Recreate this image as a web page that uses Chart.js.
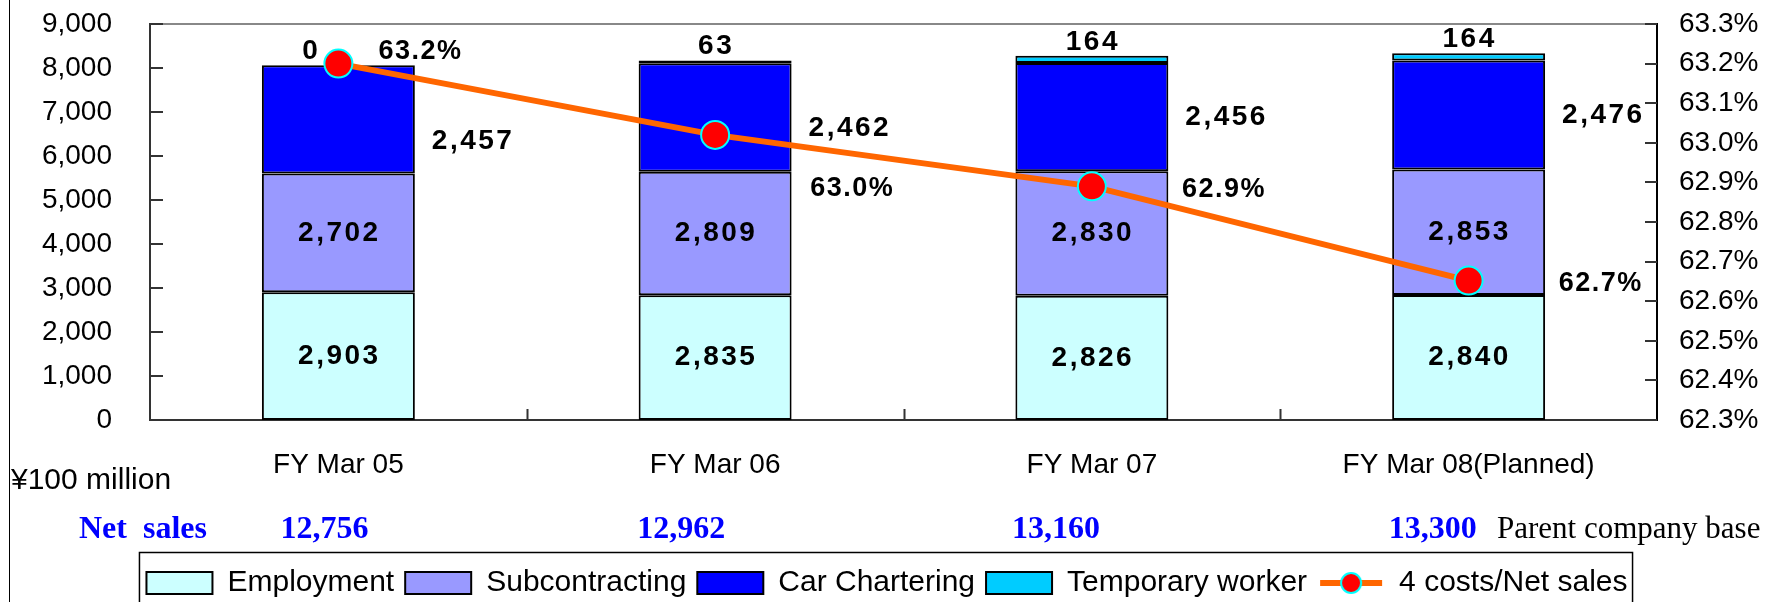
<!DOCTYPE html>
<html>
<head>
<meta charset="utf-8">
<script src="https://cdn.jsdelivr.net/npm/chart.js@4"></script>
<style>
  html, body { margin: 0; padding: 0; background: #fff; }
  #wrap { width: 1774px; height: 602px; position: relative; }
</style>
</head>
<body>
<div id="wrap"><canvas id="costChart" width="1774" height="602"></canvas></div>
<script>
// Chart data
var categories = ['FY Mar 05', 'FY Mar 06', 'FY Mar 07', 'FY Mar 08(Planned)'];
var employmentValues = [2903, 2835, 2826, 2840];
var subcontractingValues = [2702, 2809, 2830, 2853];
var carCharteringValues = [2457, 2462, 2456, 2476];
var temporaryValues = [0, 63, 164, 164];
var costRatioValues = [63.2, 63.02, 62.89, 62.652];
var netSalesValues = [12756, 12962, 13160, 13300];

// label nudges (pixels), per category
var carLabelShiftY = [22, 11, 0, 0];
var tempLabelShiftX = [-28, 0, 0, 0];
var ratioLabelShift = [[40, -12], [95, 54], [90, 3], [90, 3]];
var netSalesShiftX = [-58, -78, -80, -80];

var sansFont = "'Liberation Sans', Arial, sans-serif";
var serifFont = "'Liberation Serif', 'Times New Roman', serif";
Chart.defaults.font.family = sansFont;
Chart.defaults.color = '#000';

function fmt(n) {
    return n.toLocaleString('en-US');
}

// keep the tick padding from pushing the plot down
function tightPadding(s) {
    s.paddingTop = 15;
    s.paddingBottom = 15;
}

// legend symbol for the line series
var lineSymbol = document.createElement('canvas');
lineSymbol.width = 66;
lineSymbol.height = 26;
(function () {
    var c = lineSymbol.getContext('2d');
    c.strokeStyle = '#ff6600';
    c.lineWidth = 6;
    c.beginPath();
    c.moveTo(2, 13);
    c.lineTo(64, 13);
    c.stroke();
    c.beginPath();
    c.arc(33, 13, 10, 0, Math.PI * 2);
    c.fillStyle = '#ff0000';
    c.fill();
    c.strokeStyle = '#00ffff';
    c.lineWidth = 2;
    c.stroke();
})();

var extrasPlugin = {
    id: 'extras',
    afterDatasetsDraw: function (chart) {
        var ctx = chart.ctx;
        ctx.save();
        ctx.fillStyle = '#000';
        ctx.font = 'bold 28px ' + sansFont;
        ctx.letterSpacing = '2.5px';
        ctx.textBaseline = 'middle';

        // values inside employment / subcontracting segments
        [0, 1].forEach(function (di) {
            var meta = chart.getDatasetMeta(di);
            var values = chart.data.datasets[di].data;
            ctx.textAlign = 'center';
            meta.data.forEach(function (el, j) {
                ctx.fillText(fmt(values[j]), el.x + 1, (el.y + el.base) / 2);
            });
        });

        // car chartering values to the right of the bars
        var carMeta = chart.getDatasetMeta(2);
        ctx.textAlign = 'left';
        carMeta.data.forEach(function (el, j) {
            ctx.fillText(fmt(carCharteringValues[j]), el.x + el.width / 2 + 17,
                (el.y + el.base) / 2 + carLabelShiftY[j]);
        });

        // temporary worker values above the bars
        var tempMeta = chart.getDatasetMeta(3);
        ctx.textAlign = 'center';
        tempMeta.data.forEach(function (el, j) {
            ctx.fillText(fmt(temporaryValues[j]), el.x + tempLabelShiftX[j] + 1, el.y - 14);
        });

        // ratio labels
        var lineMeta = chart.getDatasetMeta(4);
        ctx.font = 'bold 27px ' + sansFont;
        ctx.letterSpacing = '1.5px';
        ctx.textAlign = 'left';
        lineMeta.data.forEach(function (el, j) {
            ctx.fillText(costRatioValues[j].toFixed(1) + '%', el.x + ratioLabelShift[j][0],
                el.y + ratioLabelShift[j][1]);
        });
        ctx.restore();
    },
    afterDraw: function (chart) {
        var ctx = chart.ctx;
        var a = chart.chartArea;
        var x = chart.scales.x, y = chart.scales.y, y1 = chart.scales.y1;
        ctx.save();

        // top frame line
        ctx.strokeStyle = '#888';
        ctx.lineWidth = 2;
        ctx.beginPath();
        ctx.moveTo(a.left, a.top);
        ctx.lineTo(a.right, a.top);
        ctx.stroke();

        // inward tick marks
        ctx.strokeStyle = '#333';
        ctx.beginPath();
        y.ticks.forEach(function (t) {
            var py = Math.round(y.getPixelForValue(t.value));
            ctx.moveTo(a.left, py);
            ctx.lineTo(a.left + 13, py);
        });
        y1.ticks.forEach(function (t) {
            var py = Math.round(y1.getPixelForValue(t.value));
            ctx.moveTo(a.right - 12, py);
            ctx.lineTo(a.right, py);
        });
        for (var i = 1; i < categories.length; i++) {
            var px = Math.round((x.getPixelForValue(i - 1) + x.getPixelForValue(i)) / 2) + 0.5;
            ctx.moveTo(px, a.bottom);
            ctx.lineTo(px, a.bottom - 11);
        }
        ctx.stroke();

        // left page rule
        ctx.strokeStyle = '#000';
        ctx.lineWidth = 1;
        ctx.beginPath();
        ctx.moveTo(9.5, 0);
        ctx.lineTo(9.5, chart.height);
        ctx.stroke();

        // unit, net sales row
        ctx.fillStyle = '#000';
        ctx.textBaseline = 'middle';
        ctx.textAlign = 'left';
        ctx.font = '30px ' + sansFont;
        ctx.fillText('\u00a5100 million', 11, 481);

        ctx.fillStyle = '#0000ff';
        ctx.font = 'bold 32px ' + serifFont;
        ctx.fillText('Net  sales', 79, 530);
        netSalesValues.forEach(function (v, j) {
            ctx.fillText(fmt(v), x.getPixelForValue(j) + netSalesShiftX[j], 530);
        });
        ctx.fillStyle = '#000';
        ctx.font = '31px ' + serifFont;
        ctx.fillText('Parent company base', 1497, 530);

        // legend frame
        var boxes = chart.legend.legendHitBoxes;
        if (boxes && boxes.length) {
            var l = Math.min.apply(null, boxes.map(function (b) { return b.left; }));
            var r = Math.max.apply(null, boxes.map(function (b) { return b.left + b.width; }));
            ctx.strokeStyle = '#000';
            ctx.lineWidth = 1.5;
            ctx.strokeRect(l - 7, 552.5, r - l + 12, 70);
        }
        ctx.restore();
    }
};

var ctx = document.getElementById('costChart').getContext('2d');

var costChart = new Chart(ctx, {
    type: 'bar',
    data: {
        labels: categories,
        datasets: [
            {
                label: 'Employment',
                data: employmentValues,
                backgroundColor: '#ccffff',
                borderColor: '#000',
                borderWidth: 2,
                borderSkipped: false,
                order: 1
            },
            {
                label: 'Subcontracting',
                data: subcontractingValues,
                backgroundColor: '#9999ff',
                borderColor: '#000',
                borderWidth: 2,
                borderSkipped: false,
                order: 1
            },
            {
                label: 'Car Chartering',
                data: carCharteringValues,
                backgroundColor: '#0000ff',
                borderColor: '#000',
                borderWidth: 2,
                borderSkipped: false,
                order: 1
            },
            {
                label: 'Temporary worker',
                data: temporaryValues,
                backgroundColor: '#00ccff',
                borderColor: '#000',
                borderWidth: 2,
                borderSkipped: false,
                order: 1
            },
            {
                type: 'line',
                label: '4 costs/Net sales',
                data: costRatioValues,
                yAxisID: 'y1',
                borderColor: '#ff6600',
                borderWidth: 6,
                pointRadius: 14,
                pointBackgroundColor: '#ff0000',
                pointBorderColor: '#00ffff',
                pointBorderWidth: 2,
                tension: 0,
                order: 0
            }
        ]
    },
    options: {
        responsive: false,
        animation: false,
        layout: { padding: { top: 24, left: 0, right: 0, bottom: -6 } },
        datasets: {
            bar: { categoryPercentage: 1, barPercentage: 0.406 }
        },
        scales: {
            x: {
                stacked: true,
                grid: { display: false, drawTicks: false },
                border: { color: '#333', width: 2 },
                ticks: { padding: 28, font: { size: 28 }, maxRotation: 0, autoSkip: false },
                afterFit: function (s) { s.height = 137; }
            },
            y: {
                stacked: true,
                min: 0,
                max: 9000,
                grid: { display: false, drawTicks: false },
                border: { color: '#333', width: 2 },
                ticks: {
                    stepSize: 1000,
                    padding: 38,
                    autoSkip: false,
                    font: { size: 28 },
                    callback: function (v) { return fmt(v); }
                },
                afterFit: function (s) { s.width = 150; tightPadding(s); }
            },
            y1: {
                position: 'right',
                min: 62.3,
                max: 63.3,
                grid: { display: false, drawTicks: false },
                border: { color: '#000', width: 2 },
                ticks: {
                    stepSize: 0.1,
                    padding: 22,
                    autoSkip: false,
                    font: { size: 28 },
                    callback: function (v) { return v.toFixed(1) + '%'; }
                },
                afterFit: function (s) { s.width = 117; tightPadding(s); }
            }
        },
        plugins: {
            tooltip: { enabled: false },
            legend: {
                position: 'bottom',
                labels: {
                    usePointStyle: true,
                    pointStyleWidth: 66,
                    boxHeight: 22,
                    padding: 11,
                    font: { size: 30 },
                    color: '#000',
                    generateLabels: function (chart) {
                        return chart.data.datasets.map(function (ds, i) {
                            return {
                                text: ds.label,
                                fillStyle: ds.backgroundColor,
                                strokeStyle: '#000',
                                lineWidth: 2,
                                pointStyle: ds.type === 'line' ? lineSymbol : 'rect',
                                datasetIndex: i,
                                fontColor: '#000'
                            };
                        });
                    }
                }
            }
        }
    },
    plugins: [extrasPlugin]
});
</script>
</body>
</html>
